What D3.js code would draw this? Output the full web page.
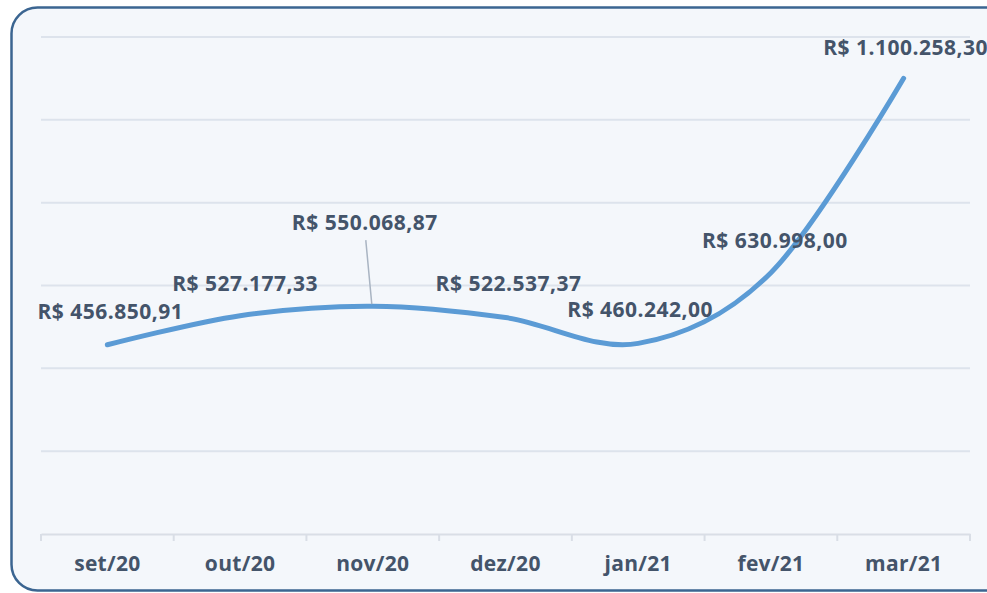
<!DOCTYPE html>
<html>
<head>
<meta charset="utf-8">
<script src="https://cdn.jsdelivr.net/npm/d3@7"></script>
<style>
  html, body { margin: 0; padding: 0; background: #ffffff; }
  svg { display: block; }
</style>
</head>
<body>
<svg id="chart"></svg>
<script>
// Data
const months = ["set/20", "out/20", "nov/20", "dez/20", "jan/21", "fev/21", "mar/21"];
const revenue = [456850.91, 527177.33, 550068.87, 522537.37, 460242.00, 630998.00, 1100258.30];
const gridValues = [0, 200000, 400000, 600000, 800000, 1000000, 1200000];

const width = 987;
const height = 593;
const margin = { top: 37, right: 17, bottom: 59, left: 41 };

const font = "'Open Sans', 'Noto Sans', sans-serif";
const textColor = "#44546a";

const svg = d3.select("#chart")
  .attr("width", width)
  .attr("height", height);

// Panel with rounded border (runs off the right edge like the original)
svg.append("rect")
  .attr("x", 11.5)
  .attr("y", 7.5)
  .attr("width", 1000)
  .attr("height", 583)
  .attr("rx", 26)
  .attr("fill", "#f4f7fb")
  .attr("stroke", "#3b6591")
  .attr("stroke-width", 2.5);

const x = d3.scaleBand()
  .domain(months)
  .range([margin.left, width - margin.right]);

const y = d3.scaleLinear()
  .domain([0, 1200000])
  .range([height - margin.bottom, margin.top]);

// Horizontal gridlines
svg.append("g")
  .selectAll("line")
  .data(gridValues.slice(1))
  .enter()
  .append("line")
  .attr("x1", margin.left)
  .attr("x2", width - margin.right)
  .attr("y1", d => y(d))
  .attr("y2", d => y(d))
  .attr("stroke", "#dde3ec")
  .attr("stroke-width", 2);

// Category axis
const xAxis = svg.append("g")
  .attr("transform", `translate(0, ${y(0)})`)
  .call(d3.axisBottom(x).tickSize(0).tickPadding(22));

xAxis.select(".domain")
  .attr("stroke", "#d9dee6")
  .attr("stroke-width", 2);

xAxis.selectAll("text")
  .attr("font-family", font)
  .attr("font-size", "21px")
  .attr("font-weight", "bold")
  .attr("letter-spacing", "0.3px")
  .attr("fill", textColor);

// tick marks sit on the band boundaries
xAxis.append("g")
  .selectAll("line")
  .data(months.concat([null]))
  .enter()
  .append("line")
  .attr("x1", (d, i) => margin.left + i * x.step())
  .attr("x2", (d, i) => margin.left + i * x.step())
  .attr("y1", 0)
  .attr("y2", 7)
  .attr("stroke", "#d9dee6")
  .attr("stroke-width", 2);

// Smoothed line
const cx = d => x(d) + x.bandwidth() / 2;

const line = d3.line()
  .x((d, i) => cx(months[i]))
  .y(d => y(d))
  .curve(d3.curveCardinal.tension(0));

svg.append("path")
  .datum(revenue)
  .attr("d", line)
  .attr("fill", "none")
  .attr("stroke", "#5b9bd5")
  .attr("stroke-width", 5)
  .attr("stroke-linecap", "round");

// Data labels, pt-BR money format
const brl = d3.formatLocale({
  decimal: ",",
  thousands: ".",
  grouping: [3],
  currency: ["R$ ", ""]
}).format("$,.2f");

// label offset from point (nov/20 was dragged up, with a leader line)
const labelShift = [[3, -33], [5, -32], [-8, -84], [3, -34], [2, -34], [4, -32], [2, -31]];

svg.append("g")
  .selectAll("line")
  .data(revenue.filter((d, i) => i === 2))
  .enter()
  .append("line")
  .attr("x1", cx(months[2]) - 7)
  .attr("y1", d => y(d) - 66)
  .attr("x2", cx(months[2]) - 1)
  .attr("y2", d => y(d) - 2)
  .attr("stroke", "#a9b4c2")
  .attr("stroke-width", 1.5);

svg.append("g")
  .selectAll("text")
  .data(revenue)
  .enter()
  .append("text")
  .attr("x", (d, i) => cx(months[i]) + labelShift[i][0])
  .attr("y", (d, i) => y(d) + labelShift[i][1])
  .attr("dy", "0.35em")
  .attr("text-anchor", "middle")
  .attr("font-family", font)
  .attr("font-size", "21px")
  .attr("font-weight", "bold")
  .attr("letter-spacing", "0.5px")
  .attr("fill", textColor)
  .text(d => brl(d));
</script>
</body>
</html>
